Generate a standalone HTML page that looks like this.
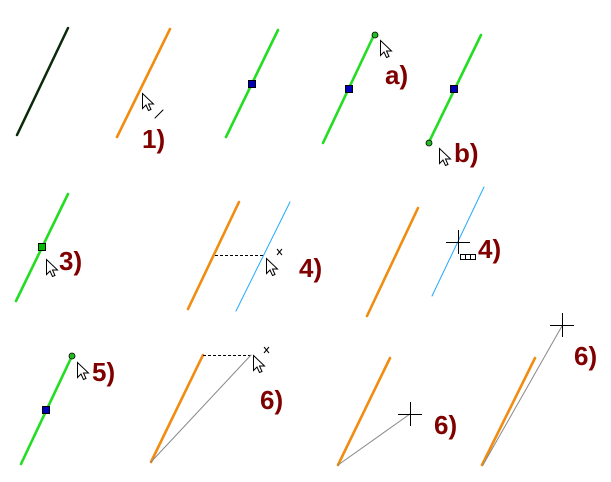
<!DOCTYPE html>
<html><head><meta charset="utf-8"><style>
html,body{margin:0;padding:0;background:#fff;}
svg{display:block}
text{font-family:"Liberation Sans",Arial,sans-serif;font-weight:bold;font-size:26px;fill:#800000}
</style></head><body>
<svg width="611" height="482" viewBox="0 0 611 482" xmlns="http://www.w3.org/2000/svg">
<defs>
<path id="cur" d="M0,0 L0,15 L3.5,11.5 L6,17 L8.5,16 L6,10.5 L11,10.5 Z" fill="#fff" stroke="#000" stroke-width="1" stroke-linejoin="miter"/>
</defs>
<g stroke-linecap="round">
<line x1="17" y1="135" x2="68" y2="28" stroke="#0a2a0a" stroke-width="2.5"/>
<line x1="117" y1="137" x2="170" y2="29" stroke="#f08c10" stroke-width="2.6"/>
<line x1="155" y1="118" x2="163" y2="110" stroke="#000" stroke-width="1"/>
<line x1="226" y1="137" x2="278" y2="30" stroke="#22dd22" stroke-width="2.6"/>
<line x1="323" y1="143" x2="374" y2="35" stroke="#22dd22" stroke-width="2.6"/>
<line x1="429" y1="142" x2="481" y2="35" stroke="#22dd22" stroke-width="2.6"/>
<line x1="16" y1="301" x2="68" y2="194" stroke="#22dd22" stroke-width="2.6"/>
<line x1="188" y1="309" x2="239" y2="202" stroke="#f08c10" stroke-width="2.6"/>
<line x1="236" y1="311" x2="290" y2="202" stroke="#22aaff" stroke-width="1"/>
<line x1="215" y1="255.5" x2="263" y2="255.5" stroke="#000" stroke-width="1" stroke-dasharray="3,2" stroke-linecap="butt"/>
<line x1="367" y1="316" x2="418" y2="208" stroke="#f08c10" stroke-width="2.6"/>
<line x1="432" y1="296" x2="484" y2="187" stroke="#22aaff" stroke-width="1"/>
<line x1="21" y1="464" x2="72" y2="356" stroke="#22dd22" stroke-width="2.6"/>
<line x1="151" y1="462" x2="203" y2="355" stroke="#f08c10" stroke-width="2.6"/>
<line x1="203" y1="355.5" x2="251" y2="355.5" stroke="#000" stroke-width="1" stroke-dasharray="3,2" stroke-linecap="butt"/>
<line x1="151" y1="462" x2="251" y2="355" stroke="#888" stroke-width="1"/>
<line x1="338" y1="465" x2="390" y2="358" stroke="#f08c10" stroke-width="2.6"/>
<line x1="338" y1="465" x2="410" y2="414" stroke="#888" stroke-width="1"/>
<line x1="482" y1="465" x2="535" y2="358" stroke="#f08c10" stroke-width="2.6"/>
<line x1="483" y1="465" x2="562" y2="326" stroke="#888" stroke-width="1"/>
</g>
<rect x="248.5" y="80.5" width="7" height="7" fill="#0000bb" stroke="#000"/>
<rect x="345.5" y="85.5" width="7" height="7" fill="#0000bb" stroke="#000"/>
<rect x="450.5" y="85.5" width="7" height="7" fill="#0000bb" stroke="#000"/>
<rect x="42.5" y="406.5" width="7" height="7" fill="#0000bb" stroke="#000"/>
<rect x="38.5" y="243.5" width="7" height="7" fill="#00bb00" stroke="#000"/>
<circle cx="375" cy="35" r="3" fill="#22bb22" stroke="#000" stroke-width="0.8"/>
<circle cx="429" cy="143" r="3" fill="#22bb22" stroke="#000" stroke-width="0.8"/>
<circle cx="72" cy="356" r="3" fill="#22bb22" stroke="#000" stroke-width="0.8"/>
<use href="#cur" x="142.5" y="93.5"/>
<use href="#cur" x="380.5" y="40.5"/>
<use href="#cur" x="439.5" y="148.5"/>
<use href="#cur" x="46.5" y="259.5"/>
<use href="#cur" x="266.5" y="258.5"/>
<use href="#cur" x="77.5" y="362.5"/>
<use href="#cur" x="253.5" y="355.5"/>
<g stroke="#000" stroke-width="1">
<line x1="277" y1="249" x2="282" y2="255"/><line x1="282" y1="249" x2="277" y2="255"/>
<line x1="264" y1="347" x2="269" y2="353"/><line x1="269" y1="347" x2="264" y2="353"/>
<line x1="446" y1="242.5" x2="470" y2="242.5"/><line x1="458.5" y1="230" x2="458.5" y2="254"/>
<rect x="460.5" y="254.5" width="15" height="5" fill="#fff"/>
<line x1="465.5" y1="254.5" x2="465.5" y2="259.5"/><line x1="470.5" y1="254.5" x2="470.5" y2="259.5"/>
<line x1="398" y1="414.5" x2="422" y2="414.5"/><line x1="410.5" y1="402" x2="410.5" y2="426"/>
<line x1="550" y1="325.5" x2="574" y2="325.5"/><line x1="562.5" y1="313" x2="562.5" y2="337"/>
</g>
<text x="142" y="148">1)</text>
<text x="385" y="84">a)</text>
<text x="454" y="162">b)</text>
<text x="59" y="270">3)</text>
<text x="299" y="277">4)</text>
<text x="478" y="258">4)</text>
<text x="92" y="381">5)</text>
<text x="260" y="409">6)</text>
<text x="434" y="434">6)</text>
<text x="574" y="365">6)</text>
</svg>
</body></html>
